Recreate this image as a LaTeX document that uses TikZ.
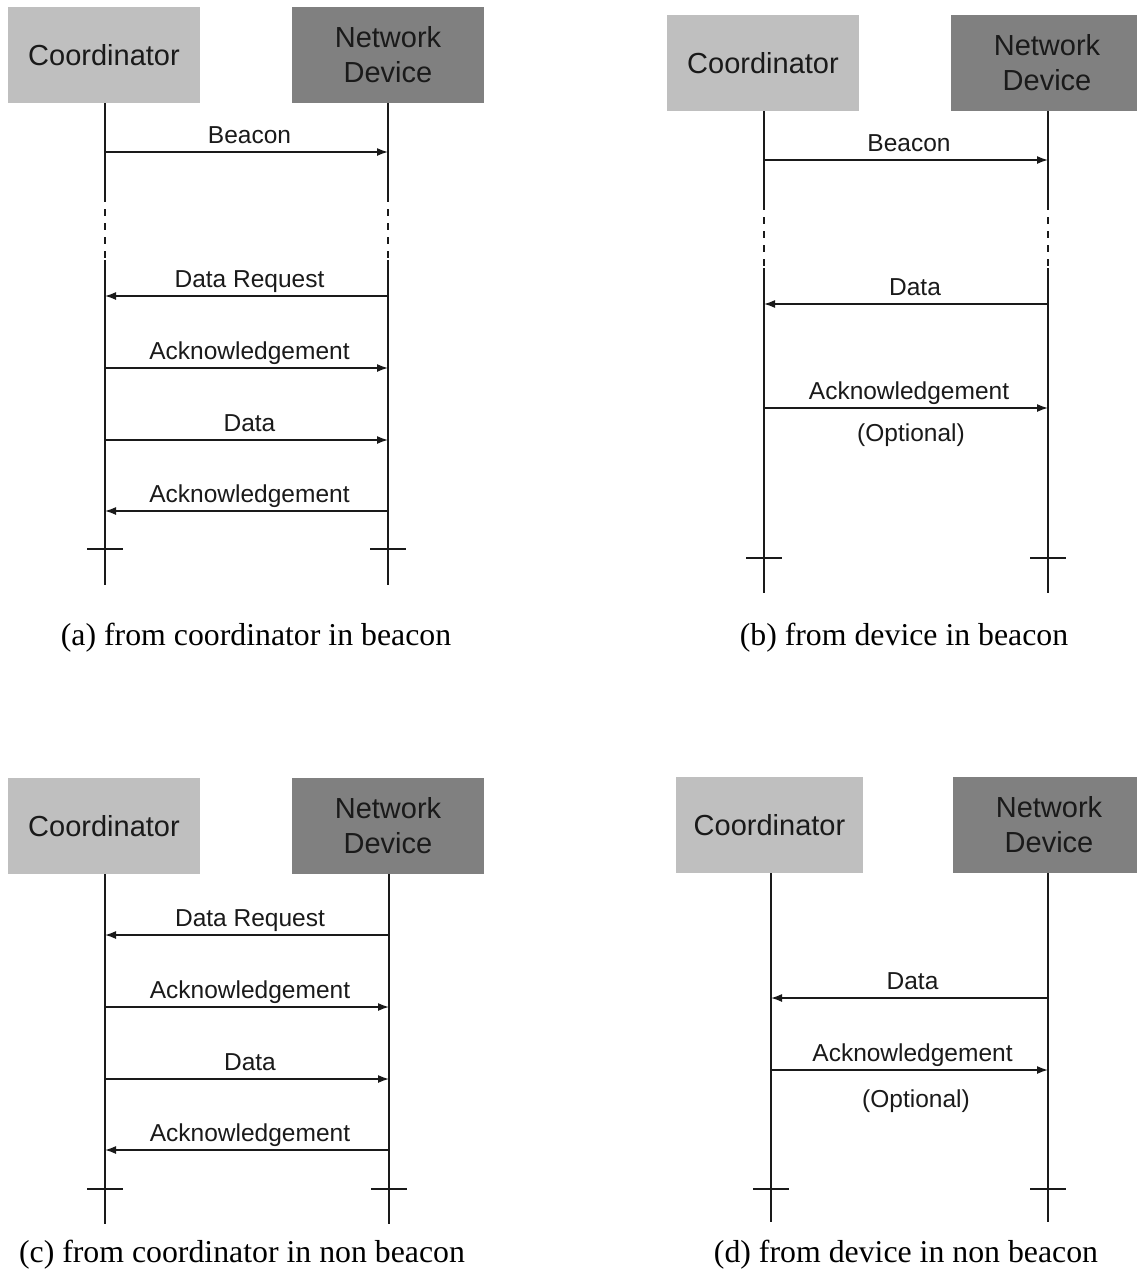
\documentclass[tikz,border=0pt]{standalone}
\usepackage{fontspec}
\setmainfont{Liberation Serif}
\setsansfont{Liberation Sans}
\usetikzlibrary{arrows.meta}

\definecolor{boxlight}{HTML}{BFBFBF}
\definecolor{boxdark}{HTML}{808080}
\definecolor{ink}{HTML}{1A1A1A}

\tikzset{
  actor/.style={rectangle, minimum width=192pt, minimum height=96pt, inner sep=0pt,
    font=\sffamily\fontsize{29}{35}\selectfont, text=ink, align=center},
  coordbox/.style={actor, fill=boxlight},
  devbox/.style={actor, fill=boxdark},
  life/.style={line width=1.6pt, draw=ink},
  lifedash/.style={life, dash pattern=on 7pt off 7pt},
  tick/.style={line width=1.6pt, draw=ink},
  msgline/.style={line width=1.5pt, draw=ink, -{Latex[length=11pt,width=8pt]}},
  msglabel/.style={anchor=base, yshift=9pt, xshift=3pt, inner sep=0pt,
    font=\sffamily\fontsize{24.5}{28}\selectfont, text=ink},
  note/.style={anchor=center, inner sep=0pt, font=\sffamily\fontsize{24.5}{28}\selectfont, text=ink},
  caption/.style={anchor=center, inner sep=0pt, font=\fontsize{31.8}{36}\selectfont, text=black}
}

% message arrow: #1 from-x, #2 to-x, #3 y, #4 label, #5 name
\newcommand{\msgarrow}[5]{%
  \coordinate (#5s) at (#1,#3);
  \coordinate (#5e) at (#2,#3);
  \draw[msgline] (#5s) -- node[msglabel]{#4} (#5e);}

% crossbar at the foot of a lifeline: #1 x, #2 y, #3 name
\newcommand{\lifeend}[3]{%
  \coordinate (#3l) at ({#1-18},#2);
  \coordinate (#3r) at ({#1+18},#2);
  \draw[tick] (#3l) -- (#3r);}

\begin{document}
\begin{tikzpicture}[x=1pt,y=-1pt]
\useasboundingbox (0,0) rectangle (1137,1272);
\fill[white] (0,0) rectangle (1137,1272);

% ---------------- (a) from coordinator in beacon ----------------
\node[coordbox] (aC) at (104,55) {Coordinator};
\node[devbox] (aN) at (388,55) {Network\\Device};
\coordinate (aC1) at (105,195); \coordinate (aC2) at (105,260); \coordinate (aCb) at (105,585);
\coordinate (aN1) at (388,195); \coordinate (aN2) at (388,260); \coordinate (aNb) at (388,585);
\draw[life] (aC.south -| aC1) -- (aC1);
\draw[lifedash] (aC1) -- (aC2);
\draw[life] (aC2) -- (aCb);
\draw[life] (aN.south -| aN1) -- (aN1);
\draw[lifedash] (aN1) -- (aN2);
\draw[life] (aN2) -- (aNb);
\msgarrow{105}{388}{152}{Beacon}{am1}
\msgarrow{388}{105}{296}{Data Request}{am2}
\msgarrow{105}{388}{368}{Acknowledgement}{am3}
\msgarrow{105}{388}{440}{Data}{am4}
\msgarrow{388}{105}{511}{Acknowledgement}{am5}
\lifeend{105}{549}{aCt}
\lifeend{388}{549}{aNt}
\node[caption] (acap) at (256,638) {(a) from coordinator in beacon};

% ---------------- (b) from device in beacon ----------------
\node[coordbox] (bC) at (763,63) {Coordinator};
\node[devbox] (bN) at (1047,63) {Network\\Device};
\coordinate (bC1) at (764,203); \coordinate (bC2) at (764,268); \coordinate (bCb) at (764,593);
\coordinate (bN1) at (1048,203); \coordinate (bN2) at (1048,268); \coordinate (bNb) at (1048,593);
\draw[life] (bC.south -| bC1) -- (bC1);
\draw[lifedash] (bC1) -- (bC2);
\draw[life] (bC2) -- (bCb);
\draw[life] (bN.south -| bN1) -- (bN1);
\draw[lifedash] (bN1) -- (bN2);
\draw[life] (bN2) -- (bNb);
\msgarrow{764}{1048}{160}{Beacon}{bm1}
\coordinate (bm2s) at (1048,304); \coordinate (bm2e) at (764,304);
\draw[msgline] (bm2s) -- node[msglabel, xshift=6pt]{Data} (bm2e);
\msgarrow{764}{1048}{408}{Acknowledgement}{bm3}
\node[note] (bopt) at (911,435) {(Optional)};
\lifeend{764}{558}{bCt}
\lifeend{1048}{558}{bNt}
\node[caption] (bcap) at (904,638) {(b) from device in beacon};

% ---------------- (c) from coordinator in non beacon ----------------
\node[coordbox] (cC) at (104,826) {Coordinator};
\node[devbox] (cN) at (388,826) {Network\\Device};
\coordinate (cCb) at (105,1224); \coordinate (cNb) at (389,1224);
\draw[life] (cC.south -| cCb) -- (cCb);
\draw[life] (cN.south -| cNb) -- (cNb);
\msgarrow{389}{105}{935}{Data Request}{cm1}
\msgarrow{105}{389}{1007}{Acknowledgement}{cm2}
\msgarrow{105}{389}{1079}{Data}{cm3}
\msgarrow{389}{105}{1150}{Acknowledgement}{cm4}
\lifeend{105}{1189}{cCt}
\lifeend{389}{1189}{cNt}
\node[caption] (ccap) at (242,1255) {(c) from coordinator in non beacon};

% ---------------- (d) from device in non beacon ----------------
\node[coordbox, minimum width=187pt] (dC) at (769.5,825) {Coordinator};
\node[devbox] (dN) at (1049,825) {Network\\Device};
\coordinate (dCb) at (771,1222); \coordinate (dNb) at (1048,1222);
\draw[life] (dC.south -| dCb) -- (dCb);
\draw[life] (dN.south -| dNb) -- (dNb);
\msgarrow{1048}{771}{998}{Data}{dm1}
\msgarrow{771}{1048}{1070}{Acknowledgement}{dm2}
\node[note] (dopt) at (916,1101) {(Optional)};
\lifeend{771}{1189}{dCt}
\lifeend{1048}{1189}{dNt}
\node[caption] (dcap) at (906,1255) {(d) from device in non beacon};
\end{tikzpicture}
\end{document}
